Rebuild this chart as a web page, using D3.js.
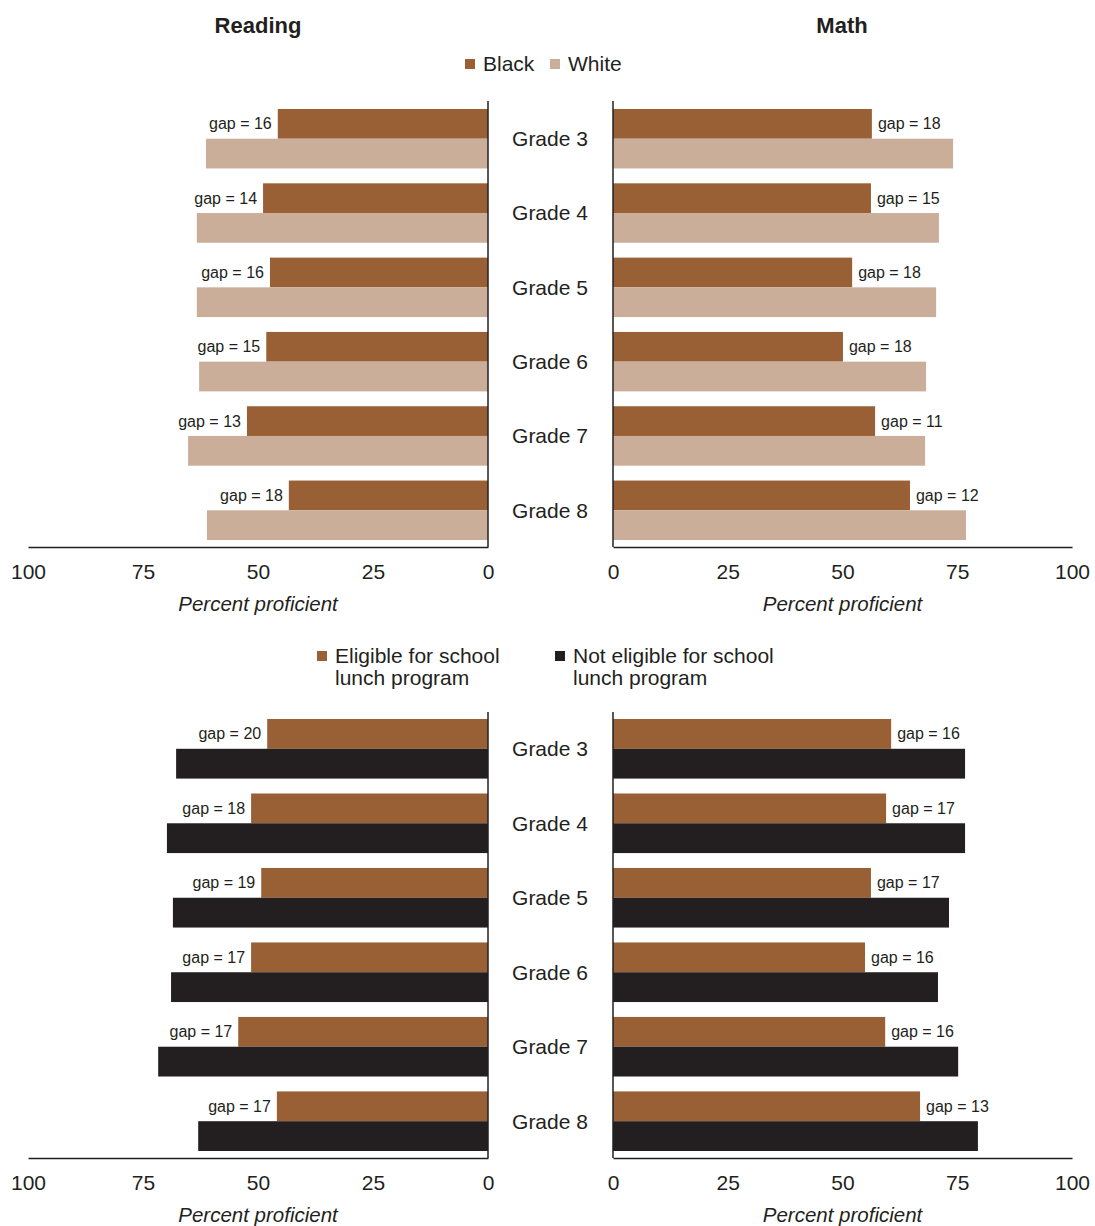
<!DOCTYPE html>
<html>
<head>
<meta charset="utf-8">
<script src="https://cdn.jsdelivr.net/npm/d3@7"></script>
<style>
  html, body { margin: 0; padding: 0; background: #fff; }
  svg { display: block; font-family: "Liberation Sans", Arial, sans-serif; }
</style>
</head>
<body>
<svg id="chart" width="1095" height="1226"></svg>
<script>
// Percent proficient by grade, state test results
const grades = ["Grade 3", "Grade 4", "Grade 5", "Grade 6", "Grade 7", "Grade 8"];
const ticks = [0, 25, 50, 75, 100];

// Race comparison
const readingBlack = [45.7, 48.9, 47.4, 48.2, 52.4, 43.3];
const readingWhite = [61.3, 63.3, 63.3, 62.8, 65.2, 61.1];
const mathBlack    = [56.4, 56.2, 52.1, 50.1, 57.1, 64.7];
const mathWhite    = [74.1, 71.0, 70.4, 68.2, 68.0, 76.9];

// School lunch eligibility comparison
const readingEligible    = [48.0, 51.5, 49.3, 51.5, 54.3, 45.9];
const readingNotEligible = [67.8, 69.8, 68.5, 68.9, 71.7, 63.0];
const mathEligible       = [60.6, 59.5, 56.2, 54.9, 59.3, 66.9];
const mathNotEligible    = [76.7, 76.7, 73.2, 70.8, 75.2, 79.5];

const BROWN = "#9a6035", TAN = "#cbae99", DARK = "#231f20", INK = "#231f20";

const svg = d3.select("#chart");

// Subject titles
svg.append("text").attr("x", 258).attr("y", 33).attr("text-anchor", "middle")
  .attr("font-size", 22).attr("font-weight", "bold").attr("fill", INK).text("Reading");
svg.append("text").attr("x", 842).attr("y", 33).attr("text-anchor", "middle")
  .attr("font-size", 22).attr("font-weight", "bold").attr("fill", INK).text("Math");

function legendItem(x, y, color, lines) {
  const g = svg.append("g");
  g.append("rect").attr("x", x).attr("y", y - 5).attr("width", 10).attr("height", 10).attr("fill", color);
  lines.forEach((t, i) => {
    g.append("text").attr("x", x + 18).attr("y", y + 7 + i * 22)
      .attr("font-size", 21).attr("fill", INK).text(t);
  });
}
legendItem(465, 64, BROWN, ["Black"]);
legendItem(550, 64, TAN, ["White"]);
legendItem(317, 656, BROWN, ["Eligible for school", "lunch program"]);
legendItem(555, 656, DARK, ["Not eligible for school", "lunch program"]);

// One mirrored half: reading grows leftwards, math rightwards
function panel(opts) {
  const { side, top, bottom, lineTop, a, b, colorA, colorB } = opts;
  const x = side === "left"
    ? d3.scaleLinear().domain([0, 100]).range([488, 28])
    : d3.scaleLinear().domain([0, 100]).range([613, 1072]);
  const y = d3.scaleBand().domain(grades).range([top, bottom]).paddingInner(0.2).paddingOuter(0);
  const sub = d3.scaleBand().domain(["a", "b"]).range([0, y.bandwidth()]);
  const g = svg.append("g");

  const rows = grades.map((gr, i) => ({ gr, a: a[i], b: b[i] }));
  rows.forEach(r => {
    [["a", r.a, colorA], ["b", r.b, colorB]].forEach(([k, v, c]) => {
      g.append("rect")
        .attr("x", Math.min(x(0), x(v)))
        .attr("y", y(r.gr) + sub(k))
        .attr("width", Math.abs(x(v) - x(0)))
        .attr("height", sub.bandwidth())
        .attr("fill", c);
    });
    const gap = Math.round(r.b - r.a);
    g.append("text")
      .attr("x", side === "left" ? x(r.a) - 6 : x(r.a) + 6)
      .attr("y", y(r.gr) + sub("a") + sub.bandwidth() / 2)
      .attr("dy", "0.35em")
      .attr("text-anchor", side === "left" ? "end" : "start")
      .attr("font-size", 16).attr("fill", INK)
      .text("gap = " + gap);
  });

  const axisY = bottom + 7;
  // value axis
  const axis = d3.axisBottom(x).tickValues(ticks).tickSize(0).tickPadding(17);
  const ag = g.append("g").attr("transform", `translate(0,${axisY})`).call(axis);
  ag.select(".domain").attr("stroke", INK).attr("stroke-width", 1.5);
  ag.selectAll("text").attr("font-size", 21).attr("fill", INK).attr("font-family", "inherit");
  // baseline at zero
  g.append("line").attr("x1", x(0)).attr("x2", x(0)).attr("y1", lineTop).attr("y2", axisY)
    .attr("stroke", INK).attr("stroke-width", 1.5);
  // axis title
  g.append("text").attr("x", (x(0) + x(100)) / 2).attr("y", axisY + 64)
    .attr("text-anchor", "middle").attr("font-size", 20.5).attr("font-style", "italic")
    .attr("fill", INK).text("Percent proficient");

  if (side === "left") {
    grades.forEach(gr => {
      svg.append("text").attr("x", 550).attr("y", y(gr) + y.bandwidth() / 2)
        .attr("dy", "0.35em").attr("text-anchor", "middle")
        .attr("font-size", 21).attr("fill", INK).text(gr);
    });
  }
}

panel({ side: "left", top: 109, bottom: 540, lineTop: 101, a: readingBlack, b: readingWhite, colorA: BROWN, colorB: TAN });
panel({ side: "right", top: 109, bottom: 540, lineTop: 101, a: mathBlack, b: mathWhite, colorA: BROWN, colorB: TAN });
panel({ side: "left", top: 719, bottom: 1151, lineTop: 712, a: readingEligible, b: readingNotEligible, colorA: BROWN, colorB: DARK });
panel({ side: "right", top: 719, bottom: 1151, lineTop: 712, a: mathEligible, b: mathNotEligible, colorA: BROWN, colorB: DARK });
</script>
</body>
</html>
